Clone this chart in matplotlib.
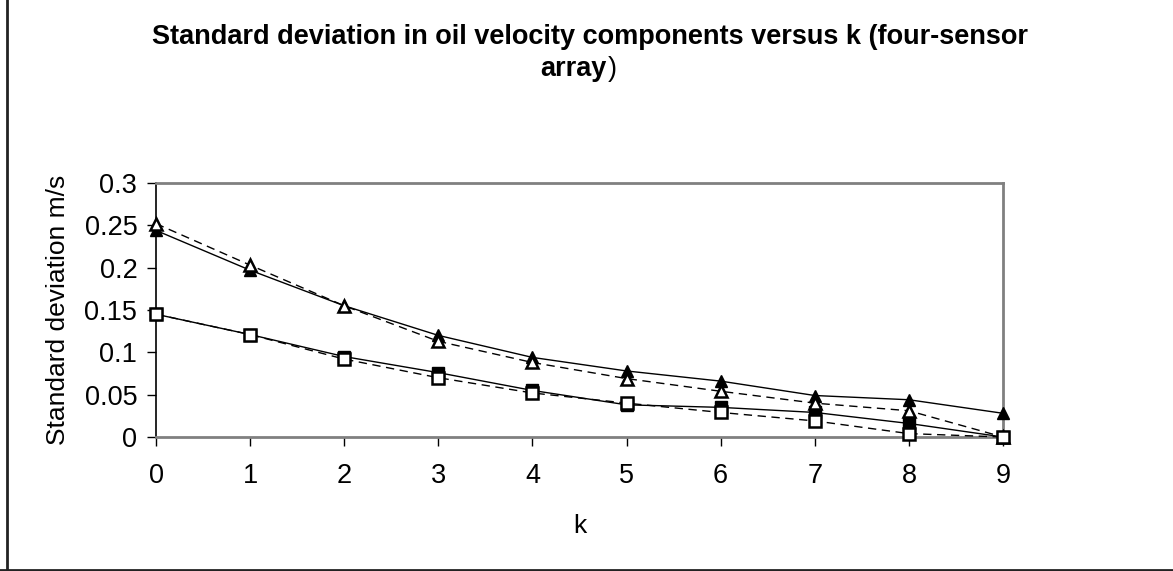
import numpy as np
import matplotlib.pyplot as plt
from matplotlib.lines import Line2D

plt.rcParams['font.family'] = ['Liberation Sans', 'DejaVu Sans']

# -----------------------
# Data
# -----------------------
k = [0, 1, 2, 3, 4, 5, 6, 7, 8, 9]
tri_filled = [0.244, 0.197, 0.155, 0.120, 0.094, 0.078, 0.066, 0.049, 0.044, 0.028]
tri_open = [0.252, 0.203, 0.155, 0.113, 0.088, 0.069, 0.054, 0.040, 0.031, 0.000]
sq_filled = [0.145, 0.121, 0.095, 0.076, 0.055, 0.038, 0.035, 0.029, 0.016, 0.000]
sq_open = [0.145, 0.121, 0.092, 0.070, 0.052, 0.040, 0.029, 0.019, 0.004, 0.000]

yticks = [0, 0.05, 0.1, 0.15, 0.2, 0.25, 0.3]
ytick_labels = ["0", "0.05", "0.1", "0.15", "0.2", "0.25", "0.3"]

W, H = 1173, 571
fig = plt.figure(figsize=(W / 100, H / 100), dpi=100)
ax = fig.add_axes([156 / W, 1 - 437 / H, (1003 - 156) / W, (437 - 183) / H])

# series: solid lines with filled markers, dashed with open markers
ax.plot(k, tri_filled, color='black', lw=1, marker='^', ms=9,
        mfc='black', mec='black', clip_on=False, zorder=3)
ax.plot(k, sq_filled, color='black', lw=1, marker='s', ms=9,
        mfc='black', mec='black', clip_on=False, zorder=3)
ax.plot(k, tri_open, color='black', lw=1, ls=(0, (6, 4)), marker='^', ms=9,
        mfc='white', mec='black', mew=1.8, clip_on=False, zorder=4)
ax.plot(k, sq_open, color='black', lw=1, ls=(0, (6, 4)), marker='s', ms=9,
        mfc='white', mec='black', mew=1.8, clip_on=False, zorder=4)

ax.set_xlim(0, 9)
ax.set_ylim(0, 0.3)
ax.set_xticks(k)
ax.set_xticklabels([str(v) for v in k], fontsize=19.5)
ax.set_yticks(yticks)
ax.set_yticklabels(ytick_labels, fontsize=19.5)
ax.tick_params(direction='out', length=6.5, width=1, colors='black')
ax.tick_params(axis='y', pad=7)
ax.tick_params(axis='x', pad=12)

for s in ['top', 'right', 'bottom']:
    ax.spines[s].set_color('#808080')
    ax.spines[s].set_linewidth(2)
ax.spines['left'].set_color('black')
ax.spines['left'].set_linewidth(1.2)

ax.set_xlabel("k", fontsize=19, labelpad=18)
ax.set_ylabel("Standard deviation m/s", fontsize=19, labelpad=10)

# title (the closing bracket is not bold in the original)
fig.text(590 / W, 1 - 44 / H, "Standard deviation in oil velocity components versus k (four-sensor",
         ha='center', va='baseline', fontsize=19.5, fontweight='bold')
fig.text(607 / W, 1 - 76 / H, "array", ha='right', va='baseline', fontsize=19.5, fontweight='bold')
fig.text(608 / W, 1 - 76 / H, ")", ha='left', va='baseline', fontsize=19.5)

# outer chart border (left and bottom visible)
fig.add_artist(Line2D([6.5 / W, 6.5 / W], [0, 1], transform=fig.transFigure, color='#222222', lw=2))
fig.add_artist(Line2D([0, 1], [1 - 569.5 / H, 1 - 569.5 / H], transform=fig.transFigure, color='#222222', lw=2))

fig.savefig("out.png", dpi=100)
